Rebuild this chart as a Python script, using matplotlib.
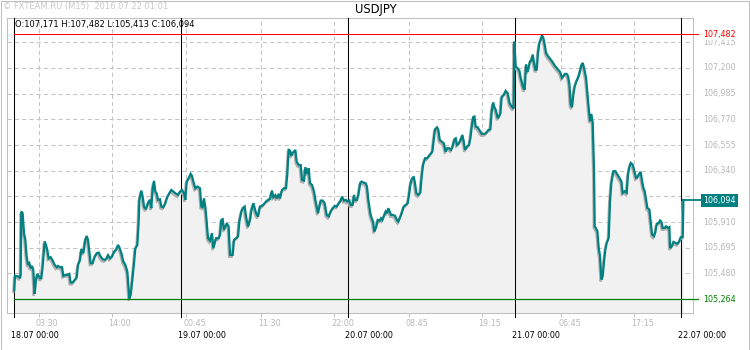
import matplotlib
matplotlib.use("Agg")
import matplotlib.pyplot as plt
import matplotlib.patheffects as pe
import matplotlib.transforms as mtransforms
from matplotlib.patches import Rectangle

plt.rcParams['font.family'] = 'DejaVu Sans'

symbol = "USDJPY"
header = "\u00a9 FXTEAM.RU (M15)  2016.07.22 01:01"
ohlc = "O:107,171 H:107,482 L:105,413 C:106,094"

# hours since 18.07 00:00 and close prices (M15)
hours = [
    0.0, 0.1, 0.63, 0.82, 0.92, 1.01, 1.20, 1.40, 1.59, 1.78, 1.97, 2.16, 2.36, 2.55, 2.74,
    2.93, 3.12, 3.32, 3.51, 3.70, 3.89, 4.08, 4.37, 4.56, 4.75, 4.95, 5.23, 5.52, 5.81, 6.10,
    6.29, 6.58, 6.87, 7.06, 7.35, 7.63, 7.92, 8.11, 8.40, 8.69, 8.98, 9.17, 9.46, 9.65, 9.94,
    10.22, 10.42, 10.61, 10.80, 10.99, 11.28, 11.57, 11.86, 12.14, 12.43, 12.72, 13.01, 13.29,
    13.49, 13.77, 14.06, 14.35, 14.64, 14.93, 15.12, 15.41, 15.69, 15.98, 16.27, 16.56, 16.75,
    16.94, 17.23, 17.42, 17.71, 17.90, 18.00, 18.28, 18.48, 18.67, 18.96, 19.15, 19.34, 19.53,
    19.72, 19.92, 20.11, 20.30, 20.49, 20.68, 20.97, 21.16, 21.45, 21.74, 22.03, 22.31, 22.60,
    22.89, 23.18, 23.56, 23.85, 24.14, 24.43, 24.62, 24.81,
    25.10, 25.38, 25.58, 25.77, 26.06, 26.34, 26.73, 26.92, 27.11, 27.30, 27.50, 27.69, 27.88,
    28.17, 28.45, 28.65, 28.84, 29.03, 29.41, 29.61, 29.80, 29.99, 30.18, 30.38, 30.57, 30.85,
    31.05, 31.43, 31.62, 31.91, 32.20, 32.39, 32.68, 32.87, 33.16, 33.35, 33.64, 33.93, 34.12,
    34.41, 34.60, 34.79, 35.08, 35.36, 35.65, 35.94, 36.23, 36.52, 36.80, 37.09, 37.28, 37.57,
    37.76, 38.05, 38.24, 38.53, 38.82, 39.11, 39.30, 39.49, 39.68, 39.88, 40.07, 40.26, 40.45,
    40.64, 40.93, 41.22, 41.41, 41.70, 41.89, 42.18, 42.37, 42.56, 42.85, 43.14, 43.33, 43.52,
    43.71, 43.90, 44.10, 44.38, 44.67, 44.96, 45.25, 45.53, 45.82, 46.11, 46.40, 46.68, 46.97,
    47.17, 47.45, 47.74, 47.93, 48.22, 48.41, 48.70, 48.89,
    49.04, 49.32, 49.52, 49.80, 49.99, 50.28, 50.57, 50.76, 50.96, 51.24, 51.43, 51.63, 51.82,
    52.11, 52.30, 52.59, 52.78, 52.97, 53.16, 53.45, 53.64, 53.83, 54.03, 54.22, 54.51, 54.79,
    55.08, 55.27, 55.47, 55.75, 56.04, 56.33, 56.62, 56.81, 57.00, 57.19, 57.48, 57.67, 57.87,
    58.15, 58.44, 58.63, 58.83, 59.11, 59.40, 59.59, 59.88, 60.17, 60.36, 60.55, 60.84, 61.03,
    61.23, 61.51, 61.80, 62.09, 62.28, 62.57, 62.86, 63.05, 63.34, 63.53, 63.72, 63.92, 64.20,
    64.49, 64.68, 64.88, 65.16, 65.45, 65.64, 65.84, 66.03, 66.22, 66.41, 66.70, 66.99, 67.28,
    67.57, 67.85, 68.04, 68.24, 68.52, 68.71, 68.91, 69.10, 69.29, 69.58, 69.76, 69.96, 70.15,
    70.44, 70.72, 71.01, 71.30, 71.59, 71.87, 71.97, 72.17,
    72.40, 72.69, 72.88, 73.07, 73.27, 73.46, 73.65, 73.84, 74.03, 74.23, 74.42, 74.61, 74.80,
    74.99, 75.19, 75.38, 75.57, 75.76, 75.95, 76.14, 76.34, 76.53, 76.82, 77.10, 77.39, 77.68,
    77.97, 78.26, 78.54, 78.83, 79.02, 79.22, 79.50, 79.70, 79.89, 80.08, 80.27, 80.46, 80.66,
    80.94, 81.23, 81.42, 81.62, 81.81, 82.00, 82.29, 82.48, 82.67, 82.86, 83.05, 83.25, 83.44,
    83.53, 83.73, 83.92, 84.11, 84.30, 84.50, 84.69, 84.88, 85.07, 85.26, 85.55, 85.74, 85.93,
    86.22, 86.51, 86.80, 87.08, 87.37, 87.56, 87.85, 88.14, 88.33, 88.52, 88.72, 89.00, 89.19,
    89.48, 89.67, 89.87, 90.15, 90.35, 90.54, 90.73, 90.92, 91.11, 91.40, 91.59, 91.79, 92.07,
    92.27, 92.46, 92.75, 92.94, 93.13, 93.32, 93.61, 93.80, 94.09, 94.28, 94.38, 94.66, 94.86,
    95.14, 95.43, 95.72, 95.91, 96.20, 96.30,
]
prices = [
    105.34, 105.46, 105.454, 105.44, 105.468, 105.998, 105.984, 105.817, 105.761, 105.621,
    105.552, 105.566, 105.524, 105.543, 105.51, 105.309, 105.426, 105.476, 105.46, 105.44,
    105.44, 105.538, 105.747, 105.719, 105.677, 105.607, 105.616, 105.588, 105.552, 105.532,
    105.543, 105.532, 105.532, 105.46, 105.468, 105.468, 105.476, 105.404, 105.404, 105.426,
    105.446, 105.552, 105.593, 105.683, 105.649, 105.761, 105.794, 105.761, 105.663, 105.566,
    105.566, 105.621, 105.649, 105.655, 105.621, 105.599, 105.593, 105.607, 105.633, 105.607,
    105.621, 105.663, 105.677, 105.719, 105.699, 105.649, 105.58, 105.552, 105.496, 105.27,
    105.30, 105.398, 105.566, 105.691, 105.719, 105.914, 106.096, 106.174, 106.123, 106.04,
    106.017, 106.054, 106.082, 106.096, 106.026, 106.193, 106.255, 106.165, 106.151, 106.096,
    106.101, 106.04, 106.034, 106.068, 106.123, 106.151, 106.179, 106.165, 106.151, 106.137,
    106.165, 106.179, 106.151, 106.096, 106.249,
    106.277, 106.313, 106.296, 106.249, 106.193, 106.207, 106.193, 106.04, 106.034, 106.109,
    106.034, 105.914, 105.775, 105.755, 105.817, 105.691, 105.733, 105.775, 105.775, 105.803,
    105.928, 105.934, 105.844, 105.872, 105.90, 105.872, 105.635, 105.635, 105.761, 105.775,
    105.789, 105.914, 105.998, 106.026, 106.04, 105.956, 105.872, 105.928, 106.006, 106.068,
    106.026, 105.984, 105.956, 106.04, 106.045, 106.062, 106.082, 106.096, 106.104, 106.174,
    106.118, 106.135, 106.107, 106.146, 106.107, 106.179, 106.193, 106.193, 106.319, 106.514,
    106.508, 106.464, 106.492, 106.50, 106.514, 106.416, 106.388, 106.388, 106.263, 106.257,
    106.369, 106.313, 106.361, 106.235, 106.221, 106.165, 106.096, 106.04, 105.984, 106.034,
    106.09, 106.09, 106.068, 105.97, 105.956, 105.998, 106.026, 106.045, 106.04, 106.068,
    106.09, 106.123, 106.09, 106.096, 106.082, 106.09, 106.054, 106.054, 106.137,
    106.095, 106.095, 106.137, 106.24, 106.249, 106.24, 106.235, 106.207, 106.095, 105.984,
    105.942, 105.914, 105.83, 105.872, 105.928, 105.922, 105.942, 105.928, 105.956, 105.998,
    105.984, 106.026, 105.998, 105.97, 105.97, 105.962, 105.928, 105.914, 105.942, 105.984,
    106.04, 106.054, 106.068, 106.137, 106.221, 106.268, 106.291, 106.235, 106.151, 106.137,
    106.157, 106.291, 106.388, 106.444, 106.444, 106.458, 106.48, 106.50, 106.597, 106.687,
    106.703, 106.681, 106.597, 106.584, 106.57, 106.50, 106.528, 106.528, 106.514, 106.536,
    106.603, 106.611, 106.556, 106.564, 106.592, 106.639, 106.584, 106.514, 106.542, 106.556,
    106.611, 106.709, 106.787, 106.793, 106.709, 106.703, 106.676, 106.648, 106.648, 106.653,
    106.667, 106.681, 106.687, 106.835, 106.91, 106.871, 106.849, 106.779, 106.793, 106.821,
    106.96, 106.974, 107.008, 106.988, 106.904, 106.876, 106.86, 107.42, 107.211,
    107.20, 107.178, 107.117, 107.075, 107.033, 107.019, 107.228, 107.167, 107.20, 107.256,
    107.262, 107.312, 107.242, 107.186, 107.186, 107.326, 107.409, 107.437, 107.474, 107.451,
    107.396, 107.326, 107.298, 107.278, 107.256, 107.228, 107.206, 107.186, 107.167, 107.117,
    107.131, 107.15, 107.15, 107.131, 107.066, 106.893, 106.871, 106.977, 107.047, 107.094,
    107.131, 107.172, 107.223, 107.242, 107.20, 107.117, 106.991, 106.866, 106.754, 106.815,
    106.74, 106.336, 105.875, 105.856, 105.833, 105.694, 105.624, 105.429, 105.457, 105.582,
    105.68, 105.736, 105.778, 106.085, 106.238, 106.336, 106.336, 106.308, 106.28, 106.252,
    106.154, 106.168, 106.154, 106.308, 106.369, 106.405, 106.391, 106.349, 106.28, 106.285,
    106.308, 106.33, 106.252, 106.196, 106.168, 106.098, 106.029, 106.015, 105.917, 105.806,
    105.792, 105.828, 105.895, 105.903, 105.923, 105.912, 105.861, 105.861, 105.875, 105.861,
    105.867, 105.694, 105.708, 105.744, 105.736, 105.728, 105.75, 105.783, 105.783, 106.094,
]

high_price = 107.482
low_price = 105.264
last_price = 106.094

y_ticks = [105.480, 105.695, 105.910, 106.125, 106.340, 106.555, 106.770, 106.985, 107.200, 107.415]
day_hours = [0, 24, 48, 72, 96]
day_labels = ["18.07 00:00", "19.07 00:00", "20.07 00:00", "21.07 00:00", "22.07 00:00"]
time_hours = [3.5, 14, 24.75, 35.5, 46, 56.75, 67.25, 78.75, 89.25]
time_labels = ["03:30", "14:00", "00:45", "11:30", "22:00", "08:45", "19:15", "06:45", "17:15"]

teal = "#008080"
green = "#008000"
grid_gray = "#c4c4c4"
label_gray = "#b8b8b8"

fig = plt.figure(figsize=(7.5, 3.5), dpi=100)
ax = fig.add_axes([7 / 750, 37 / 350, 686 / 750, 295 / 350])
x0, x1 = -1.05, 97.68
y0, y1 = 105.149, 107.618
ax.set_xlim(x0, x1)
ax.set_ylim(y0, y1)
ax.set_xticks([])
ax.set_yticks([])
for s in ax.spines.values():
    s.set_color("#c0c0c0")
    s.set_linewidth(0.75)

# grid
for v in y_ticks:
    ax.axhline(v, color=grid_gray, lw=0.75, ls=(0, (4, 3)), zorder=1)
for h in time_hours:
    ax.axvline(h, color=grid_gray, lw=0.75, ls=(0, (4, 3)), zorder=1,
               ymin=-4 / 295, ymax=1, clip_on=False)
for h in day_hours:
    ax.axvline(h, color="black", lw=0.75, zorder=3, ymin=-4 / 295, ymax=1, clip_on=False)

# area + line with shadow
ax.fill_between(hours, prices, y0, color="#f1f1f1", lw=0, zorder=2)
ax.plot(hours, prices, color=teal, lw=1.6, zorder=4, solid_joinstyle="miter",
        path_effects=[pe.SimpleLineShadow(offset=(-0.7, -1.4), shadow_color="#b0b0b0", alpha=1),
                      pe.Normal()])

# high / low lines
ytr = ax.get_yaxis_transform()
xs = (0 - x0) / (x1 - x0)
ax.plot([xs, 1.0073], [high_price, high_price], color="red", lw=0.75, transform=ytr,
        clip_on=False, zorder=5)
ax.plot([xs, 1.0073], [low_price, low_price], color=green, lw=0.9, transform=ytr,
        clip_on=False, zorder=5)
xl = (hours[-1] - x0) / (x1 - x0)
ax.plot([xl, 1.012], [last_price, last_price], color=teal, lw=1.3, transform=ytr,
        clip_on=False, zorder=5)

# price labels on the right (the one under the current-price box is hidden)
for v in y_ticks:
    if abs(v - last_price) < 0.06:
        continue
    ax.text(1.0146, v, f"{v:.3f}".replace(".", ","), transform=ytr, fontsize=5.8,
            color=label_gray, va="center", ha="left", clip_on=False)
ax.text(1.0146, high_price, f"{high_price:.3f}".replace(".", ","), transform=ytr,
        fontsize=5.8, color="red", va="center", ha="left", zorder=6,
        bbox=dict(boxstyle="square,pad=0.1", fc="white", ec="none"))
ax.text(1.0146, low_price, f"{low_price:.3f}".replace(".", ","), transform=ytr,
        fontsize=5.8, color=green, va="center", ha="left", zorder=6)
ax.text(1.0146, last_price, f"{last_price:.3f}".replace(".", ","), transform=ytr,
        fontsize=5.8, color="white", va="center", ha="left", zorder=6,
        bbox=dict(boxstyle="square,pad=0.25", fc=teal, ec="none"))

# time axis labels
xtr = mtransforms.offset_copy(ax.get_xaxis_transform(), fig=fig, x=-3, y=0, units="dots")
for h, lab in zip(time_hours, time_labels):
    ax.text(h, -10 / 295, lab, transform=xtr, fontsize=5.8, color=label_gray,
            ha="left", va="center")
for h, lab in zip(day_hours, day_labels):
    ax.text(h, -22 / 295, lab, transform=xtr, fontsize=5.8, color="black",
            ha="left", va="center")

# header texts
fig.text(3 / 750, 1 - 7 / 350, header, fontsize=6, color="#c8c8c8", ha="left", va="center")
fig.text(375.5 / 750, 1 - 9 / 350, symbol, fontsize=8.3, color="black", ha="center", va="center")
fig.text(15 / 750, 1 - 25 / 350, ohlc, fontsize=6, color="black", ha="left", va="center")

fig.patches.append(Rectangle((0.7 / 750, 0.5 / 350), 1 - 1.4 / 750, 1 - 1 / 350,
                             transform=fig.transFigure, fill=False, ec="#c0c0c0", lw=0.75))

fig.savefig("out.png", dpi=100)
